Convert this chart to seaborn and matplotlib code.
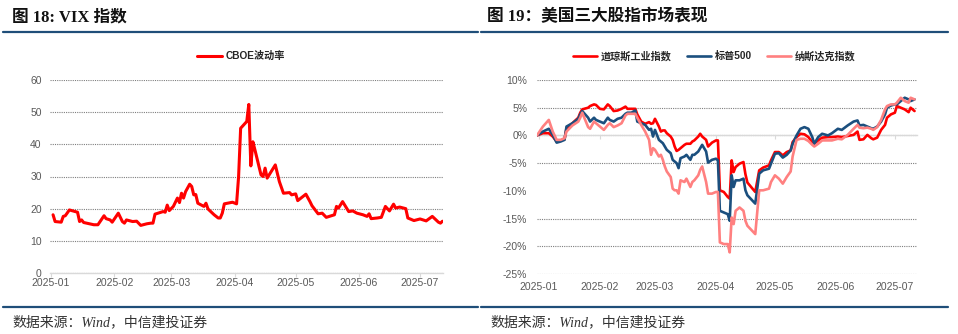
import matplotlib
matplotlib.use("Agg")
import matplotlib.pyplot as plt
import matplotlib.dates as mdates
import matplotlib.ticker as mticker
from matplotlib.lines import Line2D
from matplotlib.font_manager import FontProperties
import pandas as pd
import seaborn as sns

# ---------------- data ----------------
vix_dates = ['2025-01-02','2025-01-03','2025-01-06','2025-01-07','2025-01-08','2025-01-10','2025-01-14','2025-01-15','2025-01-16','2025-01-17',
             '2025-01-22','2025-01-24','2025-01-27','2025-01-28','2025-01-30','2025-01-31','2025-02-03','2025-02-05','2025-02-06','2025-02-07',
             '2025-02-10','2025-02-12','2025-02-14','2025-02-17','2025-02-19','2025-02-20','2025-02-21','2025-02-25','2025-02-26','2025-02-27',
             '2025-02-28','2025-03-02','2025-03-04','2025-03-05','2025-03-06','2025-03-07','2025-03-08','2025-03-10','2025-03-11','2025-03-12',
             '2025-03-13','2025-03-14','2025-03-17','2025-03-18','2025-03-19','2025-03-22','2025-03-24','2025-03-25','2025-03-26','2025-03-27',
             '2025-03-31','2025-04-02','2025-04-03','2025-04-04','2025-04-07','2025-04-08','2025-04-09','2025-04-10','2025-04-11','2025-04-14',
             '2025-04-15','2025-04-16','2025-04-17','2025-04-21','2025-04-23','2025-04-25','2025-04-28','2025-04-29','2025-05-01','2025-05-02',
             '2025-05-06','2025-05-08','2025-05-09','2025-05-12','2025-05-14','2025-05-16','2025-05-20','2025-05-21','2025-05-22','2025-05-24',
             '2025-05-27','2025-05-29','2025-05-31','2025-06-03','2025-06-05','2025-06-06','2025-06-07','2025-06-10','2025-06-12','2025-06-14',
             '2025-06-16','2025-06-18','2025-06-19','2025-06-21','2025-06-24','2025-06-25','2025-06-28','2025-07-01','2025-07-04','2025-07-07',
             '2025-07-10','2025-07-11','2025-07-12']
vix_values = [18.1,16.0,15.8,17.6,17.8,19.6,18.9,16.0,16.5,15.7,
              15.0,15.0,17.8,16.9,16.5,15.8,18.6,16.0,15.5,16.5,
              16.0,16.1,14.8,15.3,15.5,15.5,18.3,19.1,18.9,21.1,
              19.4,20.7,23.3,21.9,24.8,23.3,25.3,27.6,26.9,24.3,
              24.4,21.7,20.7,21.7,19.9,18.1,17.1,17.1,18.6,21.5,
              22.0,21.5,30.0,45.0,47.1,52.4,33.3,40.8,38.3,30.5,
              30.0,32.6,29.5,33.6,28.4,24.8,25.0,24.3,24.6,22.5,
              24.5,22.2,20.9,18.4,18.6,17.3,18.1,20.7,20.2,22.2,
              19.1,19.3,18.6,18.1,17.6,18.4,16.9,17.1,17.3,20.7,
              19.3,21.4,20.2,20.5,20.0,17.1,16.3,16.8,16.2,17.6,
              15.8,15.5,16.1]
vix_name = 'CBOE波动率'

idx_dates = ['2024-12-31','2025-01-03','2025-01-06','2025-01-08','2025-01-10','2025-01-12','2025-01-14','2025-01-15','2025-01-18','2025-01-21',
             '2025-01-22','2025-01-23','2025-01-26','2025-01-27','2025-01-29','2025-01-30','2025-02-01','2025-02-03','2025-02-05','2025-02-06',
             '2025-02-08','2025-02-10','2025-02-12','2025-02-14','2025-02-15','2025-02-17','2025-02-19','2025-02-20','2025-02-22','2025-02-24',
             '2025-02-26','2025-02-27','2025-02-28','2025-03-01','2025-03-03','2025-03-04','2025-03-05','2025-03-06','2025-03-07','2025-03-09',
             '2025-03-10','2025-03-11','2025-03-12','2025-03-13','2025-03-14','2025-03-16','2025-03-17','2025-03-19','2025-03-20','2025-03-21',
             '2025-03-23','2025-03-24','2025-03-25','2025-03-27','2025-03-28','2025-03-30',
             '2025-04-01','2025-04-02','2025-04-03','2025-04-05','2025-04-07','2025-04-08','2025-04-09','2025-04-10','2025-04-11','2025-04-13',
             '2025-04-15','2025-04-16','2025-04-17','2025-04-21','2025-04-23','2025-04-25','2025-04-28','2025-04-29','2025-05-01','2025-05-03',
             '2025-05-05','2025-05-07','2025-05-09','2025-05-10','2025-05-12','2025-05-14','2025-05-16','2025-05-18','2025-05-20','2025-05-21',
             '2025-05-23','2025-05-25','2025-05-28','2025-05-30','2025-06-02',
             '2025-06-04','2025-06-07','2025-06-10','2025-06-12','2025-06-13','2025-06-15','2025-06-17','2025-06-19','2025-06-20','2025-06-22',
             '2025-06-24','2025-06-26','2025-06-27','2025-06-29','2025-07-01','2025-07-02','2025-07-04','2025-07-06','2025-07-08','2025-07-09',
             '2025-07-11']
dow_pct = [0.0, 0.4, 0.4, -0.2, -1.1, -0.9, -0.7, 1.3, 2.2, 3.2,
           4.1, 4.7, 5.0, 5.3, 5.6, 5.5, 4.8, 4.7, 5.6, 5.3,
           4.4, 4.5, 4.8, 5.2, 4.8, 4.8, 4.8, 3.8, 2.5, 2.1,
           2.4, 2.1, 2.2, 3.0, 1.6, 0.7, 0.9, 0.9, 0.4, -0.2,
           -0.8, -2.0, -2.8, -2.6, -2.3, -1.7, -1.5, -1.5, -1.1, -0.9,
           -0.2, 0.3, -0.2, -0.8, -2.0, -1.3,
           -0.9, -0.9, -9.9, -10.2, -11.1, -11.4, -4.5, -6.6, -5.7, -5.1,
           -4.8, -7.0, -8.5, -10.2, -6.3, -5.8, -5.4, -4.5, -3.0, -3.0,
           -3.6, -3.0, -2.7, -1.2, -0.3, 0.3, 0.2, -0.3, -1.2, -1.5,
           -0.9, -0.4, -0.3, -0.3, -0.2,
           -0.3, -0.1, 0.1, 0.7, -0.8, -0.7, 0.1, -0.5, -0.7, -0.4,
           1.0, 1.9, 3.2, 3.8, 4.1, 5.3, 5.0, 4.7, 4.2, 5.0,
           4.4]
spx_pct = [0.0, 0.7, 1.2, 0.1, -1.3, -1.1, -0.8, 1.6, 2.2, 3.0,
           3.8, 4.4, 3.2, 2.5, 3.2, 2.8, 2.5, 2.2, 3.2, 2.8,
           2.5, 3.0, 3.2, 3.9, 4.1, 4.1, 4.5, 2.5, 2.2, 1.9,
           1.0, 1.2, -0.2, 1.0, -0.8, -1.1, -1.4, -2.0, -2.6, -3.2,
           -4.4, -4.7, -5.0, -5.9, -4.1, -3.8, -3.5, -4.4, -3.5, -3.5,
           -2.9, -2.3, -1.7, -2.9, -4.9, -4.4,
           -4.2, -4.5, -13.6, -13.9, -14.2, -15.4, -7.2, -9.3, -8.1, -8.1,
           -7.8, -9.9, -10.8, -12.3, -6.9, -6.3, -6.0, -5.1, -3.3, -3.2,
           -4.0, -3.5, -2.7, -1.5, 0.0, 1.2, 1.5, 1.2, -0.3, -1.5,
           -0.3, 0.3, 0.0, 0.4, 1.2,
           1.0, 1.8, 2.5, 2.7, 1.8, 1.9, 1.6, 1.3, 1.2, 1.6,
           2.5, 3.8, 5.0, 5.4, 5.6, 5.6, 6.2, 6.8, 6.5, 6.2,
           6.5]
ndx_pct = [0.0, 1.6, 2.8, 0.7, -0.8, -0.8, -0.5, 0.7, 1.8, 2.5,
           3.2, 4.1, 1.5, 1.2, 2.5, 2.2, 1.6, 1.0, 1.9, 2.2,
           1.5, 1.8, 2.2, 3.6, 3.9, 3.9, 3.9, 3.2, 1.9, 0.7,
           -0.8, -3.5, -2.3, -2.6, -3.8, -3.5, -4.4, -5.6, -6.5, -7.5,
           -9.6, -9.9, -9.9, -10.5, -8.1, -8.4, -7.8, -9.3, -8.4, -8.1,
           -7.2, -6.2, -5.6, -8.4, -10.5, -10.5,
           -10.2, -10.2, -19.3, -19.6, -19.6, -21.1, -14.8, -16.0, -13.6, -13.0,
           -13.6, -15.4, -16.3, -17.8, -9.9, -9.9, -9.6, -8.4, -7.2, -7.8,
           -8.7, -7.5, -6.5, -3.8, -0.8, -0.6, -0.6, -1.0, -1.7, -2.0,
           -1.5, -0.9, -0.9, -0.9, -0.6,
           -0.7, 0.1, 1.2, 1.9, 1.4, 1.3, 1.4, 1.2, 1.0, 1.5,
           2.8, 4.7, 5.3, 5.6, 5.6, 5.9, 6.8, 6.2, 5.9, 6.8,
           6.5]
idx_names = ['道琼斯工业指数', '标普500', '纳斯达克指数']

# ---------------- style ----------------
sns.set_theme(style='white')
plt.rcParams['font.family'] = ['Liberation Sans', 'Noto Sans CJK SC', 'DejaVu Sans']
plt.rcParams['axes.unicode_minus'] = False

RED = '#FF0000'
NAVY = '#1B4F7E'
PINK = '#FF8080'
HEAD = '#1F4E79'
TICK = '#595959'
AXL = '#D9D9D9'
GRID = '#7F7F7F'

W, H = 958, 334
fig = plt.figure(figsize=(W / 100, H / 100), dpi=100)
fig.patch.set_facecolor('white')


def fx(px):
    return px / W


def fy(py):
    return 1 - py / H


# header / footer decorations
title_fp = dict(family=['Liberation Serif', 'Noto Sans CJK SC'], weight='bold', size=12, color='#111111')
fig.text(fx(12), fy(17), '图 18: VIX 指数', ha='left', va='center', **title_fp)
fig.text(fx(487), fy(17), '图 19：美国三大股指市场表现', ha='left', va='center', **title_fp)
for x0, x1 in [(3, 478), (481, 948)]:
    fig.add_artist(Line2D([fx(x0), fx(x1)], [fy(32), fy(32)], transform=fig.transFigure, color=HEAD, lw=1.6))
    fig.add_artist(Line2D([fx(x0), fx(x1)], [fy(307), fy(307)], transform=fig.transFigure, color=HEAD, lw=1.6))
foot_fp = dict(family=['Liberation Serif', 'Noto Sans CJK SC'], style='italic', size=10, color='#333333')
fig.text(fx(12), fy(322), '数据来源：Wind，中信建投证券', ha='left', va='center', **foot_fp)
fig.text(fx(490), fy(322), '数据来源：Wind，中信建投证券', ha='left', va='center', **foot_fp)

legend_fp = FontProperties(family=['Liberation Sans', 'Noto Sans CJK SC'], weight='bold', size=7.3)

# ---------------- left: VIX ----------------
ax1 = fig.add_axes([fx(50), fy(273), fx(443) - fx(50), fy(80) - fy(273)])
vix_df = pd.DataFrame({'date': pd.to_datetime(vix_dates), 'value': vix_values, 'series': vix_name})
sns.lineplot(data=vix_df, x='date', y='value', hue='series', palette={vix_name: RED},
             estimator=None, lw=2.2, ax=ax1, legend=False)
ax1.set_xlim(pd.Timestamp('2024-12-31 12:00'), pd.Timestamp('2025-07-12 06:00'))
ax1.set_ylim(0, 60)
ax1.set_yticks(range(0, 61, 10))
ax1.xaxis.set_major_locator(mdates.MonthLocator())
ax1.xaxis.set_major_formatter(mdates.DateFormatter('%Y-%m'))
ax1.set_xlabel('')
ax1.set_ylabel('')
ax1.yaxis.grid(True, color=GRID, linestyle=(0, (1, 1)), lw=0.8)
ax1.xaxis.grid(False)
for t in ax1.yaxis.get_major_ticks():
    if abs(t.get_loc()) < 1e-9:
        t.gridline.set_visible(False)
for s in ['left', 'top', 'right']:
    ax1.spines[s].set_visible(False)
ax1.spines['bottom'].set_color(AXL)
ax1.spines['bottom'].set_linewidth(1.0)
ax1.tick_params(axis='x', length=3, width=0.8, color=AXL, labelsize=7.5, labelcolor=TICK, pad=0.5, direction='out', bottom=True)
ax1.tick_params(axis='y', length=0, labelsize=7.5, labelcolor=TICK, pad=6)
ax1.legend(handles=ax1.get_lines()[:1], labels=[vix_name], loc='center',
           bbox_to_anchor=(fx(241), fy(56)), bbox_transform=fig.transFigure,
           frameon=False, prop=legend_fp, handlelength=2.4, handletextpad=0.35)

# ---------------- right: three indices ----------------
ax2 = fig.add_axes([fx(537), fy(274), fx(917) - fx(537), fy(80) - fy(274)])
d = pd.to_datetime(idx_dates)
idx_df = pd.concat([
    pd.DataFrame({'date': d, 'value': dow_pct, 'series': idx_names[0]}),
    pd.DataFrame({'date': d, 'value': spx_pct, 'series': idx_names[1]}),
    pd.DataFrame({'date': d, 'value': ndx_pct, 'series': idx_names[2]}),
], ignore_index=True)
sns.lineplot(data=idx_df, x='date', y='value', hue='series', hue_order=idx_names,
             palette={idx_names[0]: RED, idx_names[1]: NAVY, idx_names[2]: PINK},
             estimator=None, lw=1.9, ax=ax2, legend=False)
ax2.set_xlim(pd.Timestamp('2024-12-31 00:00'), pd.Timestamp('2025-07-12 06:00'))
ax2.set_ylim(-25, 10)
ax2.set_yticks(range(-25, 11, 5))
ax2.yaxis.set_major_formatter(mticker.FuncFormatter(lambda v, p: f'{v:.0f}%'))
ax2.xaxis.set_major_locator(mdates.MonthLocator())
ax2.xaxis.set_major_formatter(mdates.DateFormatter('%Y-%m'))
ax2.set_xlabel('')
ax2.set_ylabel('')
ax2.yaxis.grid(True, color=GRID, linestyle=(0, (1, 1)), lw=0.8)
ax2.xaxis.grid(False)
for t in ax2.yaxis.get_major_ticks():
    if abs(t.get_loc()) < 1e-9:
        t.gridline.set_visible(False)
for s in ['left', 'top', 'right', 'bottom']:
    ax2.spines[s].set_visible(False)
ax2.tick_params(axis='x', length=0, labelsize=7.5, labelcolor=TICK, pad=6)
ax2.tick_params(axis='y', length=0, labelsize=7.5, labelcolor=TICK, pad=7)

# zero line with month tick marks
sec = ax2.secondary_xaxis(25 / 35)
sec.set_alignment('bottom')
sec.xaxis.set_major_locator(mdates.MonthLocator())
sec.tick_params(axis='x', length=3, width=0.8, color=AXL, labelbottom=False, labeltop=False, direction='out')
sec.spines['bottom'].set_color(AXL)
sec.spines['bottom'].set_linewidth(1.0)
sec.set_zorder(1)
for ln in ax2.get_lines():
    ln.set_zorder(3)

ax2.legend(handles=ax2.get_lines()[:3], labels=idx_names, loc='center', ncol=3,
           bbox_to_anchor=(fx(714), fy(56)), bbox_transform=fig.transFigure,
           frameon=False, prop=legend_fp, handlelength=2.4, handletextpad=0.35, columnspacing=1.5)

fig.savefig('out.png', dpi=100, facecolor='white')
